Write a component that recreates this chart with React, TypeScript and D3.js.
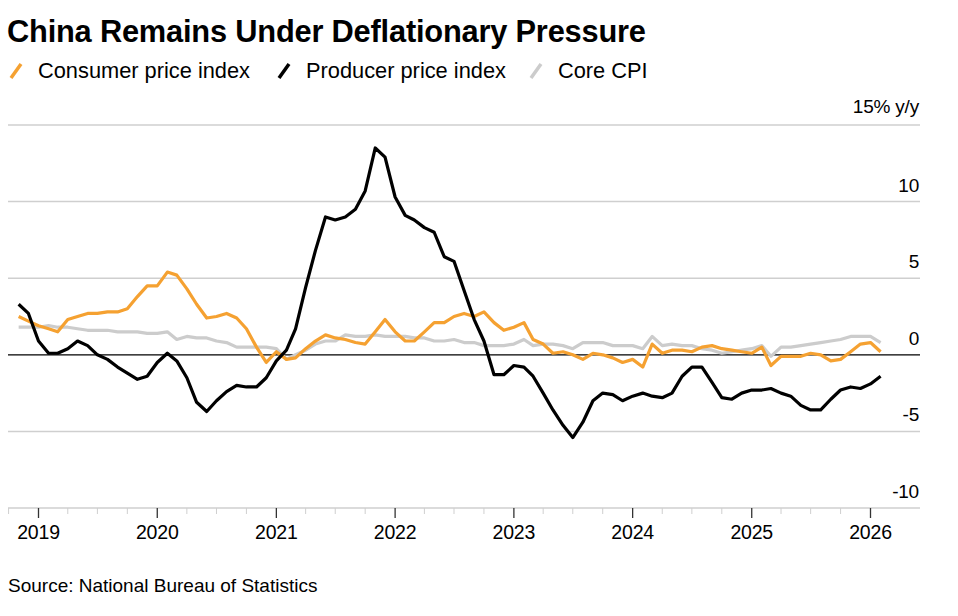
import * as d3 from "d3";
import { useEffect } from "react";

// monthly y/y %, Oct 2018 .. Jan 2026
const startMonth = "2018-10";

const cpi = [
  2.5, 2.2, 1.9,
  1.7, 1.5, 2.3, 2.5, 2.7, 2.7, 2.8, 2.8, 3.0, 3.8, 4.5, 4.5,
  5.4, 5.2, 4.3, 3.3, 2.4, 2.5, 2.7, 2.4, 1.7, 0.5, -0.5, 0.2,
  -0.3, -0.2, 0.4, 0.9, 1.3, 1.1, 1.0, 0.8, 0.7, 1.5, 2.3, 1.5,
  0.9, 0.9, 1.5, 2.1, 2.1, 2.5, 2.7, 2.5, 2.8, 2.1, 1.6, 1.8,
  2.1, 1.0, 0.7, 0.1, 0.2, 0.0, -0.3, 0.1, 0.0, -0.2, -0.5, -0.3,
  -0.8, 0.7, 0.1, 0.3, 0.3, 0.2, 0.5, 0.6, 0.4, 0.3, 0.2, 0.1,
  0.5, -0.7, -0.1, -0.1, -0.1, 0.1, 0.0, -0.4, -0.3, 0.2, 0.7, 0.8,
  0.2,
];

const ppi = [
  3.3, 2.7, 0.9,
  0.1, 0.1, 0.4, 0.9, 0.6, 0.0, -0.3, -0.8, -1.2, -1.6, -1.4, -0.5,
  0.1, -0.4, -1.5, -3.1, -3.7, -3.0, -2.4, -2.0, -2.1, -2.1, -1.5, -0.4,
  0.3, 1.7, 4.4, 6.8, 9.0, 8.8, 9.0, 9.5, 10.7, 13.5, 12.9, 10.3,
  9.1, 8.8, 8.3, 8.0, 6.4, 6.1, 4.2, 2.3, 0.9, -1.3, -1.3, -0.7,
  -0.8, -1.4, -2.5, -3.6, -4.6, -5.4, -4.4, -3.0, -2.5, -2.6, -3.0, -2.7,
  -2.5, -2.7, -2.8, -2.5, -1.4, -0.8, -0.8, -1.8, -2.8, -2.9, -2.5, -2.3,
  -2.3, -2.2, -2.5, -2.7, -3.3, -3.6, -3.6, -2.9, -2.3, -2.1, -2.2, -1.9,
  -1.4,
];

const coreCpi = [
  1.8, 1.8, 1.8,
  1.9, 1.8, 1.8, 1.7, 1.6, 1.6, 1.6, 1.5, 1.5, 1.5, 1.4, 1.4,
  1.5, 1.0, 1.2, 1.1, 1.1, 0.9, 0.8, 0.5, 0.5, 0.5, 0.5, 0.4,
  -0.3, 0.0, 0.3, 0.7, 0.9, 0.9, 1.3, 1.2, 1.2, 1.3, 1.2, 1.2,
  1.2, 1.1, 1.1, 0.9, 0.9, 1.0, 0.8, 0.8, 0.6, 0.6, 0.6, 0.7,
  1.0, 0.6, 0.7, 0.7, 0.6, 0.4, 0.8, 0.8, 0.8, 0.6, 0.6, 0.6,
  0.4, 1.2, 0.6, 0.7, 0.6, 0.6, 0.4, 0.3, 0.1, 0.2, 0.3, 0.4,
  0.6, -0.1, 0.5, 0.5, 0.6, 0.7, 0.8, 0.9, 1.0, 1.2, 1.2, 1.2,
  0.8,
];

const yearTicks = [2019, 2020, 2021, 2022, 2023, 2024, 2025, 2026];
const yTicks = [15, 10, 5, 0, -5, -10];

const series = [
  { name: "Consumer price index", values: cpi, color: "#f5a131" },
  { name: "Producer price index", values: ppi, color: "#000000" },
  { name: "Core CPI", values: coreCpi, color: "#cccccc" },
];

const W = 958;
const H = 616;
const left = 8;
const right = 920;
const font = "'Liberation Sans', Arial, sans-serif";

export default function App() {
  useEffect(() => {
    document.body.style.margin = "0";
  }, []);

  const start = d3.timeParse("%Y-%m")(startMonth)!;
  // each monthly reading sits at the end of its month
  const dateOf = (i: number) => d3.timeMonth.offset(start, i + 1);

  const x = d3
    .scaleTime()
    .domain([new Date(2019, 0, 1), new Date(2026, 0, 1)])
    .range([38.5, 870.5]);

  const y = d3.scaleLinear().domain([-10, 15]).range([508, 125]);

  const line = d3
    .line<number>()
    .x((_, i) => x(dateOf(i)))
    .y((d) => y(d));

  const quarters = d3.timeMonth
    .every(3)!
    .range(new Date(2018, 9, 1), new Date(2026, 3, 1))
    .filter((d) => d.getMonth() !== 0 && x(d) >= left && x(d) <= right);

  // draw order: core at back, then cpi, ppi on top
  const drawOrder = [series[2], series[0], series[1]];

  return (
    <svg width={W} height={H} style={{ display: "block", background: "#fff" }}>
      <text x={7} y={42} fontFamily={font} fontWeight="bold" fontSize={30.8} letterSpacing={-0.2} fill="#000">
        China Remains Under Deflationary Pressure
      </text>

      {series.map((s, i) => {
        const xs = [10, 278, 530][i];
        return (
          <g key={s.name} transform={`translate(${xs},0)`}>
            <line x1={1} y1={78} x2={11} y2={64} stroke={s.color} strokeWidth={3.5} />
            <text x={28} y={78} fontFamily={font} fontSize={21.8} letterSpacing={0} fill="#000">
              {s.name}
            </text>
          </g>
        );
      })}

      {yTicks.map((t) => (
        <g key={t}>
          <line
            x1={left}
            x2={right}
            y1={y(t)}
            y2={y(t)}
            stroke={t === 0 ? "#000" : "#cfcfcf"}
            strokeWidth={t === 0 ? 1.3 : 1.5}
          />
          <text
            x={919}
            y={y(t) - (t === 15 ? 12 : 10)}
            textAnchor="end"
            fontFamily={font}
            fontSize={19}
            letterSpacing={-0.2}
            fill="#000"
          >
            {t === 15 ? "15% y/y" : t}
          </text>
        </g>
      ))}

      {quarters.map((d) => (
        <line key={+d} x1={x(d)} x2={x(d)} y1={508} y2={514} stroke="#cfcfcf" strokeWidth={1} />
      ))}
      {yearTicks.map((yr) => {
        const d = new Date(yr, 0, 1);
        return (
          <g key={yr}>
            <line x1={x(d)} x2={x(d)} y1={508} y2={518} stroke="#333" strokeWidth={1.3} />
            <text x={x(d)} y={539} textAnchor="middle" fontFamily={font} fontSize={19.5} letterSpacing={-0.2} fill="#000">
              {yr}
            </text>
          </g>
        );
      })}

      {drawOrder.map((s) => (
        <path
          key={s.name}
          d={line(s.values) || ""}
          fill="none"
          stroke={s.color}
          strokeWidth={3.2}
          strokeLinejoin="round"
          strokeLinecap="butt"
        />
      ))}

      <text x={8} y={592} fontFamily={font} fontSize={19} letterSpacing={0} fill="#000">
        Source: National Bureau of Statistics
      </text>
    </svg>
  );
}
